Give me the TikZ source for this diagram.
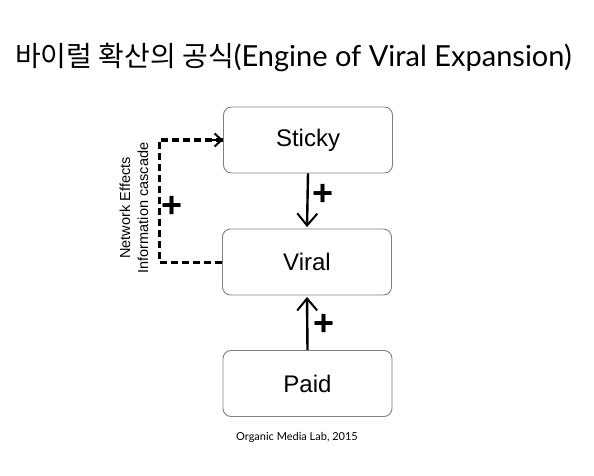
\documentclass[tikz,border=0pt]{standalone}
\usepackage{fontspec}
\setmainfont{Liberation Sans}
\newfontfamily\krfont{Noto Sans CJK KR}
\newfontfamily\gillfont{Lato}
\usetikzlibrary{arrows.meta,positioning}

\tikzset{
  stage/.style={draw=black!50, line width=0.9pt, rounded corners=8pt,
    minimum width=169pt, minimum height=66pt, font=\fontsize{24}{28}\selectfont},
  pusharrow/.style={line width=2.4pt, -{Straight Barb[length=12pt,width=20pt,line width=2pt]}},
  loopline/.style={line width=3pt, dash pattern=on 7pt off 4pt},
  plus/.style={font=\fontsize{36}{36}\selectfont\bfseries, inner sep=0pt}
}

\begin{document}
\begin{tikzpicture}[x=1pt,y=-1pt]
\useasboundingbox (0,0) rectangle (594,476);

% title
\node[anchor=west, inner sep=0pt] (title) at (15,57)
  {{\krfont\fontsize{28}{30}\selectfont 바이럴 확산의 공식}{\gillfont\fontsize{29}{30}\selectfont (Engine of Viral Expansion)}};

% stages
\node[stage] (sticky) at (308,140) {Sticky};
\node[stage] (viral) at (307,262) {Viral};
\node[stage] (paid) at (307.5,383.5) {Paid};

% forward arrows
\draw[pusharrow, shorten >=1.5pt] (sticky.south) -- (viral.north);
\node[plus] (p1) at (323,195) {+};
\draw[pusharrow, shorten >=1.5pt] (paid.north) -- (viral.south);
\node[plus] (p2) at (324,325) {+};

% feedback loop
\coordinate (bend) at (159,262);
\draw[loopline] (viral.west) -- (bend) |- (sticky.west);
\draw[line width=2pt, -{Straight Barb[length=7pt,width=13pt,line width=2pt]}]
  (212,140) -- (sticky.west);
\node[plus] (p3) at (172,207) {+};
\node[rotate=90, align=center, font=\fontsize{14.5}{18}\selectfont, inner sep=0pt] (effects) at (134,208)
  {Network Effects\\Information cascade};

% footer
\node[font=\gillfont\fontsize{11}{13}\selectfont] (credit) at (297,437) {Organic Media Lab, 2015};
\end{tikzpicture}
\end{document}
